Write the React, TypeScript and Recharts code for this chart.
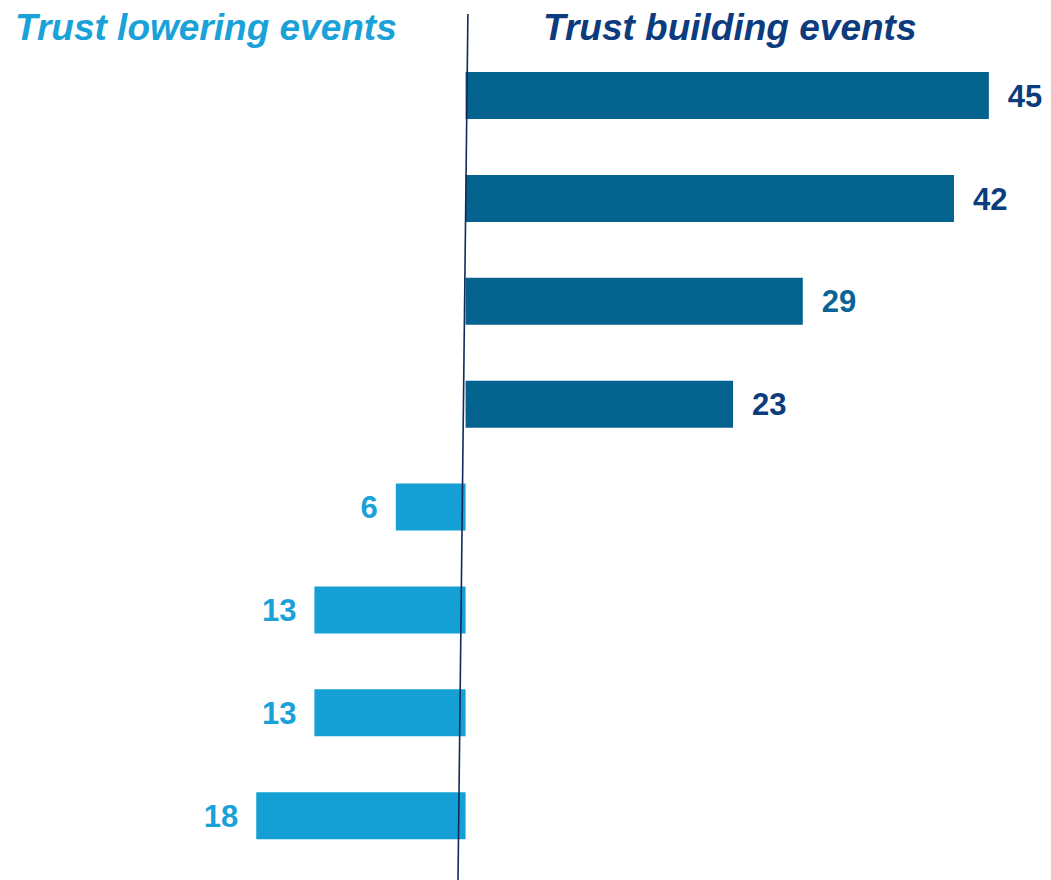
import React from 'react';
import { BarChart, Bar, XAxis, YAxis, Cell, LabelList, ReferenceLine, Customized } from 'recharts';

const categories = ['b1', 'b2', 'b3', 'b4', 'l1', 'l2', 'l3', 'l4'];
const values = [45, 42, 29, 23, -6, -13, -13, -18];
const titles = ['Trust lowering events', 'Trust building events'];

const data = categories.map((c, i) => ({ name: c, value: values[i] }));

const POS_BAR = '#04628F';
const NEG_BAR = '#15A0D5';
const POS_LABEL = '#0C3B7E';
const POS_LABEL_ALT = '#0A6496';
const NEG_LABEL = '#1AA2D8';
const LINE = '#13295A';
const FONT = '"Liberation Sans", Arial, sans-serif';

const ValueLabel = (props: any) => {
  const { x, y, width, height, value, index } = props;
  const v = Number(value);
  const x1 = Number(x);
  const x2 = Number(x) + Number(width);
  const end = v >= 0 ? Math.max(x1, x2) : Math.min(x1, x2);
  const cy = Number(y) + Number(height) / 2;
  const fill = v >= 0 ? (index === 2 ? POS_LABEL_ALT : POS_LABEL) : NEG_LABEL;
  return (
    <text
      x={v >= 0 ? end + 19 : end - 18}
      y={cy}
      dy="0.36em"
      textAnchor={v >= 0 ? 'start' : 'end'}
      fill={fill}
      fontFamily={FONT}
      fontWeight="bold"
      fontSize={31}
    >
      {Math.abs(v)}
    </text>
  );
};

const Titles = () => (
  <g>
    <text x={7} y={32} fill={NEG_LABEL} fontFamily={FONT} fontWeight="bold" fontStyle="italic" fontSize={37}>
      {titles[0]}
    </text>
    <text x={535} y={32} fill={POS_LABEL} fontFamily={FONT} fontWeight="bold" fontStyle="italic" fontSize={37}>
      {titles[1]}
    </text>
  </g>
);

export default function App() {
  return (
    <BarChart
      width={1043}
      height={872}
      data={data}
      layout="vertical"
      margin={{ top: 36, right: 4, bottom: 13, left: 225 }}
    >
      <XAxis type="number" domain={[-20, 50]} hide />
      <YAxis type="category" dataKey="name" hide />
      <YAxis yAxisId="line" type="number" domain={[0, 1]} allowDataOverflow hide />
      <Bar dataKey="value" barSize={47} isAnimationActive={false}>
        {data.map((d, i) => (
          <Cell key={i} fill={d.value >= 0 ? POS_BAR : NEG_BAR} />
        ))}
        <LabelList dataKey="value" content={<ValueLabel />} />
      </Bar>
      <ReferenceLine
        yAxisId="line"
        segment={[{ x: 0.2, y: -0.255 }, { x: -0.65, y: 7.111 }]}
        stroke={LINE}
        strokeWidth={1.6}
        ifOverflow="visible"
      />
      <Customized component={<Titles />} />
    </BarChart>
  );
}
